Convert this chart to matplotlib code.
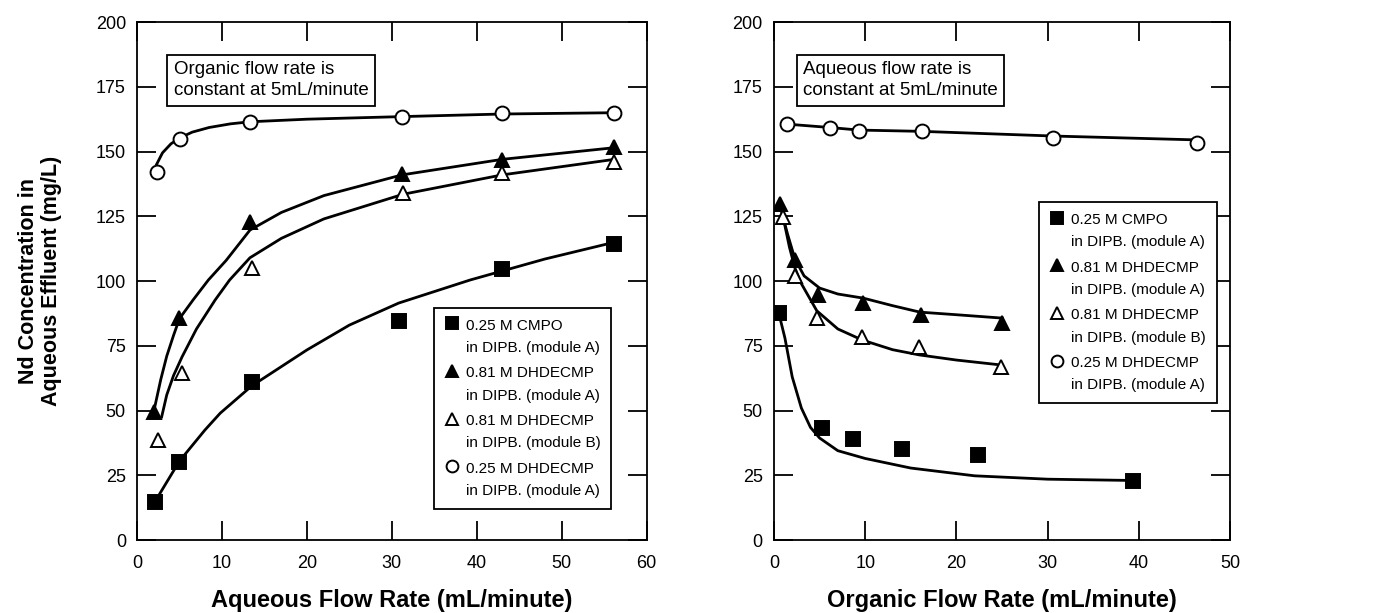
import numpy as np
import matplotlib.pyplot as plt
from matplotlib.legend_handler import HandlerLine2D

plt.rcParams['font.family'] = ['Liberation Sans', 'DejaVu Sans']

# left panel: aqueous flow rate varied (organic fixed at 5 mL/min)
aq_sq_x = [2.1, 5.0, 13.5, 30.8, 43.0, 56.2]
aq_sq_y = [14.7, 30.0, 61.0, 84.5, 104.5, 114.5]
aq_ft_x = [2.0, 5.0, 13.3, 31.2, 43.0, 56.2]
aq_ft_y = [49.5, 85.7, 122.8, 141.3, 146.7, 151.7]
aq_ot_x = [2.5, 5.3, 13.5, 31.3, 43.0, 56.2]
aq_ot_y = [38.6, 64.5, 105.0, 134.0, 141.7, 146.0]
aq_oc_x = [2.3, 5.06, 13.3, 31.2, 43.0, 56.2]
aq_oc_y = [142.0, 155.0, 161.5, 163.5, 164.8, 165.0]

# fitted curves
aq_sq_cx = [2.7, 5.0, 8.0, 9.8, 13.5, 20.0, 25.0, 30.8, 39.2, 48.0, 56.2]
aq_sq_cy = [18.0, 30.5, 42.5, 49.0, 59.5, 73.4, 83.0, 91.5, 100.4, 108.5, 115.0]
aq_ft_cx = [2.0, 2.8, 3.5, 4.3, 5.0, 6.6, 8.4, 10.5, 13.3, 17.0, 22.0, 31.2, 43.0, 56.2]
aq_ft_cy = [50.0, 62.0, 71.0, 79.0, 85.5, 92.7, 100.4, 108.0, 119.7, 126.5, 133.0, 141.0, 147.0, 151.5]
aq_ot_cx = [2.9, 3.5, 4.3, 5.3, 7.0, 9.2, 10.9, 13.3, 17.0, 22.0, 31.3, 43.0, 56.2]
aq_ot_cy = [47.5, 56.0, 63.5, 70.7, 81.5, 92.7, 100.4, 109.0, 116.5, 124.0, 133.5, 141.0, 147.0]
aq_oc_cx = [2.3, 3.0, 4.0, 5.06, 6.5, 8.5, 11.0, 13.3, 20.0, 31.2, 43.0, 56.2]
aq_oc_cy = [145.0, 149.5, 153.0, 155.3, 157.5, 159.3, 160.7, 161.5, 162.5, 163.5, 164.5, 165.0]

# right panel: organic flow rate varied (aqueous fixed at 5 mL/min)
org_sq_x = [0.55, 5.3, 8.7, 14.0, 22.4, 39.4]
org_sq_y = [87.6, 43.2, 39.0, 35.1, 32.8, 22.8]
org_ft_x = [0.66, 2.3, 4.8, 9.8, 16.1, 25.0]
org_ft_y = [129.7, 108.0, 94.6, 91.5, 86.9, 83.8]
org_ot_x = [1.0, 2.3, 4.7, 9.7, 15.9, 24.9]
org_ot_y = [124.7, 102.0, 85.7, 78.4, 74.5, 66.8]
org_oc_x = [1.4, 6.1, 9.3, 16.2, 30.6, 46.4]
org_oc_y = [160.6, 159.0, 157.9, 157.9, 155.3, 153.3]

org_sq_cx = [0.5, 1.2, 2.0, 3.0, 4.0, 5.0, 7.0, 10.0, 15.0, 22.0, 30.0, 39.4]
org_sq_cy = [88.0, 78.0, 63.0, 51.0, 43.5, 39.4, 34.5, 31.5, 27.8, 24.8, 23.5, 23.0]
org_ft_cx = [0.66, 1.5, 2.3, 3.3, 5.0, 7.0, 9.8, 13.0, 16.0, 20.0, 25.0]
org_ft_cy = [129.0, 118.0, 108.5, 102.0, 97.3, 95.0, 93.4, 90.5, 88.0, 87.0, 85.7]
org_ot_cx = [1.0, 1.7, 2.3, 3.0, 4.7, 7.0, 9.7, 13.0, 15.9, 20.0, 24.9]
org_ot_cy = [124.7, 113.0, 105.0, 99.0, 88.5, 81.5, 77.2, 73.5, 71.5, 69.5, 67.6]
org_oc_cx = [1.4, 6.1, 9.3, 16.2, 30.6, 46.4]
org_oc_cy = [160.6, 159.3, 158.3, 157.8, 156.0, 154.5]

labels = ['0.25 M CMPO\nin DIPB. (module A)',
          '0.81 M DHDECMP\nin DIPB. (module A)',
          '0.81 M DHDECMP\nin DIPB. (module B)',
          '0.25 M DHDECMP\nin DIPB. (module A)']


class FirstLineHandler(HandlerLine2D):
    # put the legend marker beside the first line of a two-line label
    def create_artists(self, legend, orig_handle, xdescent, ydescent,
                       width, height, fontsize, trans):
        arts = super().create_artists(legend, orig_handle, xdescent, ydescent,
                                      width, height, fontsize, trans)
        for a in arts:
            a.set_ydata([y + 0.9 * fontsize for y in a.get_ydata()])
        return arts


fig = plt.figure(figsize=(13.74, 6.13), dpi=100)
ax1 = fig.add_axes([0.0997, 0.119, 0.371, 0.845])
ax2 = fig.add_axes([0.5633, 0.119, 0.332, 0.845])

styles = [dict(marker='s', mfc='black'), dict(marker='^', mfc='black'),
          dict(marker='^', mfc='white'), dict(marker='o', mfc='white')]


def draw(ax, pts, curves):
    for (cx, cy) in curves:
        ax.plot(cx, cy, color='black', lw=2.0, zorder=2)
    handles = []
    for (px, py), st in zip(pts, styles):
        h, = ax.plot(px, py, ls='none', mec='black', ms=10, mew=1.4, zorder=3, **st)
        handles.append(h)
    ax.set_ylim(0, 200)
    ax.set_yticks(np.arange(0, 201, 25))
    ax.tick_params(direction='in', length=14, width=1.3, top=True, right=True,
                   labelsize=13)
    ax.tick_params(axis='x', pad=11)
    ax.tick_params(axis='y', pad=8)
    for s in ax.spines.values():
        s.set_linewidth(1.3)
    return handles


h1 = draw(ax1, [(aq_sq_x, aq_sq_y), (aq_ft_x, aq_ft_y), (aq_ot_x, aq_ot_y), (aq_oc_x, aq_oc_y)],
          [(aq_sq_cx, aq_sq_cy), (aq_ft_cx, aq_ft_cy), (aq_ot_cx, aq_ot_cy), (aq_oc_cx, aq_oc_cy)])
ax1.set_xlim(0, 60)
ax1.set_xticks(np.arange(0, 61, 10))

h2 = draw(ax2, [(org_sq_x, org_sq_y), (org_ft_x, org_ft_y), (org_ot_x, org_ot_y), (org_oc_x, org_oc_y)],
          [(org_sq_cx, org_sq_cy), (org_ft_cx, org_ft_cy), (org_ot_cx, org_ot_cy), (org_oc_cx, org_oc_cy)])
ax2.set_xlim(0, 50)
ax2.set_xticks(np.arange(0, 51, 10))

leg_kw = dict(fontsize=11, frameon=True, fancybox=False, edgecolor='black', framealpha=1,
              handletextpad=0.4, handlelength=1.0, labelspacing=0.75,
              borderpad=0.7, borderaxespad=0, markerscale=0.85,
              handler_map={plt.Line2D: FirstLineHandler()})
for ax, h, anchor in [(ax1, h1, (0.582, 0.448)), (ax2, h2, (0.581, 0.652))]:
    leg = ax.legend(h, labels, loc='upper left', bbox_to_anchor=anchor, **leg_kw)
    leg.get_frame().set_linewidth(1.3)
    leg.set_zorder(5)
    for t in leg.get_texts():
        t.set_linespacing(1.75)

box = dict(boxstyle='square,pad=0.35', fc='white', ec='black', lw=1.3)
ax1.text(0.072, 0.888, 'Organic flow rate is\nconstant at 5mL/minute', transform=ax1.transAxes,
         fontsize=13.5, va='center', ha='left', bbox=box, linespacing=1.3)
ax2.text(0.064, 0.888, 'Aqueous flow rate is\nconstant at 5mL/minute', transform=ax2.transAxes,
         fontsize=13.5, va='center', ha='left', bbox=box, linespacing=1.3)

ax1.set_xlabel('Aqueous Flow Rate (mL/minute)', fontsize=17, fontweight='bold', labelpad=12)
ax2.set_xlabel('Organic Flow Rate (mL/minute)', fontsize=17, fontweight='bold', labelpad=12)
ax1.set_ylabel('Nd Concentration in\nAqueous Effluent (mg/L)', fontsize=15.5, fontweight='bold',
               labelpad=24, linespacing=1.15)

fig.savefig('out.png', dpi=100)
